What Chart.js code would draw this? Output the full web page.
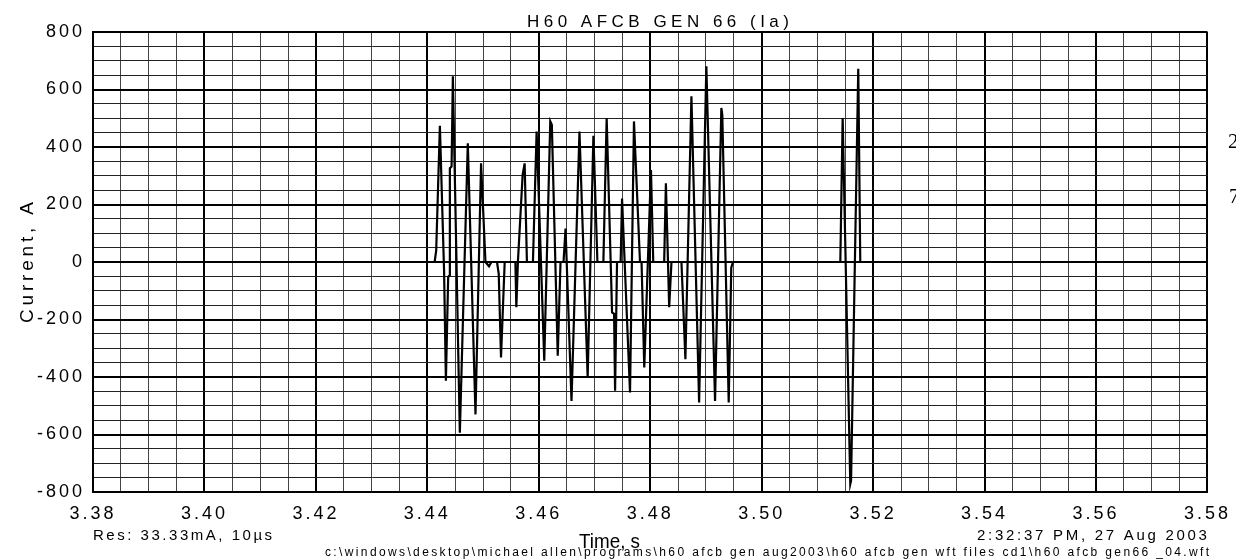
<!DOCTYPE html>
<html>
<head>
<meta charset="utf-8">
<title>H60 AFCB GEN 66 (Ia)</title>
<script src="https://cdn.jsdelivr.net/npm/chart.js@4.4.0/dist/chart.umd.min.js"></script>
<style>
  html, body { margin: 0; padding: 0; background: #fff; }
  canvas { display: block; }
</style>
</head>
<body>
<canvas id="wave" width="1236" height="560"></canvas>
<script>
// phase A current (time in s, current in A)
const timeS = [
  3.38000, 3.44131, 3.44159, 3.44225, 3.44300, 3.44333, 3.44374, 3.44399,
  3.44404, 3.44435, 3.44458, 3.44583, 3.44726, 3.44864, 3.44964, 3.45043,
  3.45107, 3.45150, 3.45250, 3.45281, 3.45322, 3.45388, 3.45580, 3.45597,
  3.45625, 3.45710, 3.45746, 3.45787, 3.45895, 3.45961, 3.46098, 3.46206,
  3.46234, 3.46340, 3.46390, 3.46444, 3.46480, 3.46587, 3.46730, 3.46877,
  3.46980, 3.47052, 3.47159, 3.47218, 3.47315, 3.47351, 3.47369, 3.47404,
  3.47469, 3.47494, 3.47637, 3.47708, 3.47816, 3.47844, 3.47893, 3.48013,
  3.48054, 3.48250, 3.48281, 3.48340, 3.48381, 3.48560, 3.48631, 3.48739,
  3.48877, 3.49007, 3.49163, 3.49276, 3.49293, 3.49408, 3.49454, 3.49485,
  3.51411, 3.51453, 3.51590, 3.51604, 3.51733, 3.51769, 3.58000
];
const currentA = [
  0, 0, 40, 474, -30, -413, -52, -46,
  326, 332, 646, -594, 413, -530, 343, 0,
  -15, 0, 0, -41, -332, 0, 0, -157,
  0, 303, 343, 0, 0, 454, -343, 489,
  477, -326, 0, 0, 116, -483, 454, -402,
  439, 0, 0, 501, -175, -180, -448, 0,
  0, 221, -454, 489, 0, 0, -367, 320,
  0, 0, 274, -157, 0, 0, -338, 576,
  -489, 681, -483, 536, 512, -489, -20, 0,
  0, 501, -772, -760, 672, 0, 0
];

// axes
const xLimits = [3.38, 3.58];
const yLimits = [-800, 800];
const xSteps = [0.02, 0.005];   // labelled, grid
const ySteps = [200, 50];

// texts
const titleText = "H60 AFCB GEN 66 (Ia)";
const yTitle = "Current, A";
const xTitle = "Time, s";
const resText = "Res: 33.33mA, 10\u00b5s";
const stampText = "2:32:37 PM, 27 Aug 2003";
const pathText = "c:\\windows\\desktop\\michael allen\\programs\\h60 afcb gen aug2003\\h60 afcb gen wft files cd1\\h60 afcb gen66 _04.wft";

const SANS = "'Liberation Sans', Arial, sans-serif";

function onStep(v, step){
  const q = v / step;
  return Math.abs(q - Math.round(q)) < 1e-6;
}

// stretch text with letter spacing so it covers a given width
function spacedText(ctx, text, x0, y, width){
  ctx.letterSpacing = "0px";
  const w = ctx.measureText(text).width;
  const s = (width - w) / Math.max(1, text.length - 1);
  ctx.letterSpacing = s.toFixed(2) + "px";
  ctx.textAlign = "left";
  ctx.fillText(text, x0, y);
  ctx.letterSpacing = "0px";
}

// squeeze/stretch text horizontally to a width
function scaledText(ctx, text, x0, y, width){
  ctx.letterSpacing = "0px";
  const w = ctx.measureText(text).width;
  ctx.save();
  ctx.translate(x0, y);
  ctx.scale(width / w, 1);
  ctx.textAlign = "left";
  ctx.fillText(text, 0, 0);
  ctx.restore();
}

const labelsPlugin = {
  id: "labels",
  beforeDraw(chart){
    chart.ctx.letterSpacing = "3px"; // tick labels are spread out on the original
  },
  afterDraw(chart){
    const ctx = chart.ctx;
    ctx.save();
    ctx.fillStyle = "#000";
    ctx.textBaseline = "alphabetic";

    ctx.font = "17px " + SANS;
    spacedText(ctx, titleText, 527, 27, 262);

    ctx.save();
    ctx.translate(33, 323);
    ctx.rotate(-Math.PI / 2);
    ctx.font = "19px " + SANS;
    spacedText(ctx, yTitle, 0, 0, 121);
    ctx.restore();

    ctx.font = "15px " + SANS;
    spacedText(ctx, resText, 93, 540, 179);
    spacedText(ctx, stampText, 977, 540, 230);

    ctx.font = "21px " + SANS;
    scaledText(ctx, xTitle, 579, 548, 61);

    ctx.font = "12px " + SANS;
    spacedText(ctx, pathText, 325, 556, 884);

    // clipped characters at the right edge of the page
    ctx.font = "21px 'Liberation Serif', 'Times New Roman', serif";
    ctx.fillText("2", 1228, 148);
    ctx.fillText("7", 1229, 203);
    ctx.restore();
  }
};

const points = timeS.map((t, i) => ({ x: t, y: currentA[i] }));

new Chart(document.getElementById("wave"), {
  type: "scatter",
  data: {
    datasets: [{
      data: points,
      showLine: true,
      borderColor: "#000",
      borderWidth: 2.2,
      pointRadius: 0,
      tension: 0
    }]
  },
  options: {
    responsive: false,
    animation: false,
    events: [],
    layout: { padding: { left: 0, top: 32, right: 25, bottom: 0 } },
    plugins: { legend: { display: false }, tooltip: { enabled: false } },
    scales: {
      x: {
        type: "linear",
        min: xLimits[0],
        max: xLimits[1],
        afterFit(scale){ scale.height = 68; },
        border: { display: true, color: "#000", width: 2 },
        grid: {
          drawTicks: false,
          color: c => (c.tick && onStep(c.tick.value, xSteps[0])) ? "#000" : "#444",
          lineWidth: c => (c.tick && onStep(c.tick.value, xSteps[0])) ? 2 : 1
        },
        ticks: {
          stepSize: xSteps[1],
          autoSkip: false,
          maxRotation: 0,
          minRotation: 0,
          padding: 11,
          color: "#000",
          font: { family: SANS, size: 18 },
          callback: v => onStep(v, xSteps[0]) ? v.toFixed(2) : ""
        }
      },
      y: {
        min: yLimits[0],
        max: yLimits[1],
        afterFit(scale){ scale.width = 93; },
        border: { display: true, color: "#000", width: 2 },
        grid: {
          drawTicks: false,
          color: c => (c.tick && onStep(c.tick.value, ySteps[0])) ? "#000" : "#222",
          lineWidth: c => (c.tick && onStep(c.tick.value, ySteps[0])) ? 2 : 1
        },
        ticks: {
          stepSize: ySteps[1],
          autoSkip: false,
          padding: 8,
          color: "#000",
          font: { family: SANS, size: 18 },
          callback: v => onStep(v, ySteps[0]) ? String(v) : ""
        }
      }
    }
  },
  plugins: [labelsPlugin]
});
</script>
</body>
</html>
